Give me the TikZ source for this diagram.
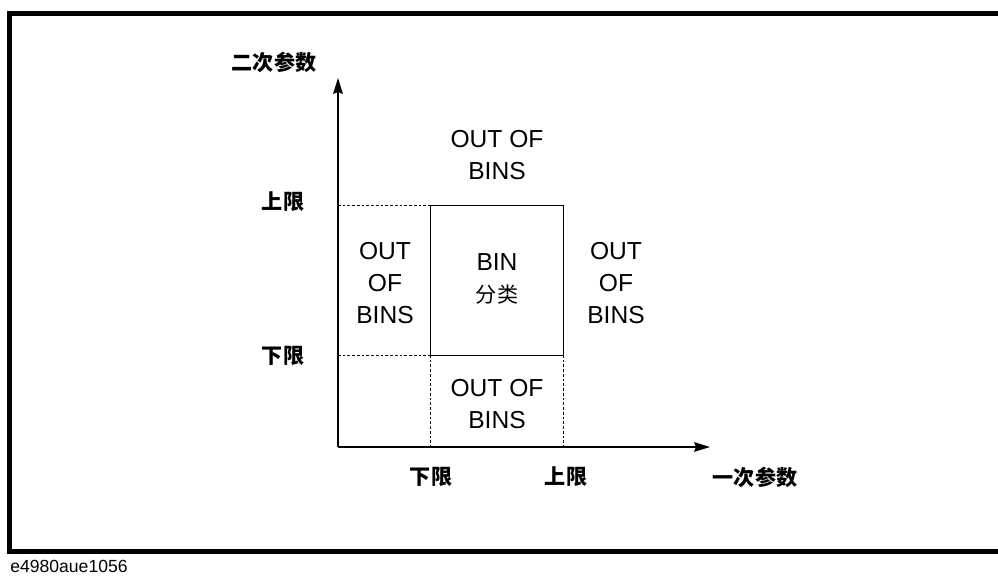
\documentclass[tikz,border=0pt]{standalone}
\usepackage{fontspec}
\setmainfont{Liberation Sans}
\newfontfamily\cjkfont{Noto Sans CJK SC}
\usetikzlibrary{arrows.meta,positioning}
\tikzset{
    binlabel/.style={align=center, font=\fontsize{14}{18}\selectfont},
    limlabel/.style={font=\fontsize{12}{14}\cjkfont\bfseries},
    axisarrow/.style={-{Stealth[length=9pt,width=5.5pt,inset=1pt]}, line width=0.8pt},
    guideline/.style={dash pattern=on 1.5pt off 1.2pt, line width=0.55pt},
    binbox/.style={line width=0.55pt}
}

\begin{document}
\begin{tikzpicture}[x=0.02cm, y=-0.02cm]
\useasboundingbox (0,0) rectangle (998,576);
% frame
\draw[line width=2.8pt] (9.5,13.5) rectangle (1010,551.5);
\node[anchor=north west, inner sep=0pt, font=\fontsize{10}{12}\selectfont] (tag) at (10,560) {e4980aue1056};
% axes
\coordinate (origin) at (338,447);
\coordinate (xtip) at (710,447);
\coordinate (ytip) at (338,78);
\draw[axisarrow] (origin) -- (xtip);
\draw[axisarrow] (origin) -- (ytip);
% limits
\coordinate (xlo) at (430,447);
\coordinate (xhi) at (563,447);
\coordinate (ylo) at (338,355);
\coordinate (yhi) at (338,205);
\coordinate (binlo) at (430,355);
\coordinate (binhi) at (563,205);
\draw[binbox] (binlo) rectangle (binhi);
\draw[guideline] (yhi) -- (yhi -| binlo);
\draw[guideline] (ylo) -- (binlo);
\draw[guideline] (binlo) -- (xlo);
\draw[guideline] (binlo -| binhi) -- (xhi);
% axis labels
\node[limlabel] (ytitle) at (274,62) {二次参数};
\node[limlabel] (xtitle) at (755,477) {一次参数};
\node[limlabel] (yhilab) at (283,202) {上限};
\node[limlabel] (ylolab) at (283,356) {下限};
\node[limlabel] (xlolab) at (431,477) {下限};
\node[limlabel] (xhilab) at (566,477) {上限};
% regions
\node[binlabel] (outtop) at (497,155) {OUT OF\\BINS};
\node[binlabel] (outleft) at (385,283) {OUT\\OF\\BINS};
\node[binlabel] (bin) at (497,279) {BIN\\{\fontsize{12}{14}\cjkfont 分类}};
\node[binlabel] (outright) at (616,283) {OUT\\OF\\BINS};
\node[binlabel] (outbottom) at (497,404) {OUT OF\\BINS};
\end{tikzpicture}
\end{document}
